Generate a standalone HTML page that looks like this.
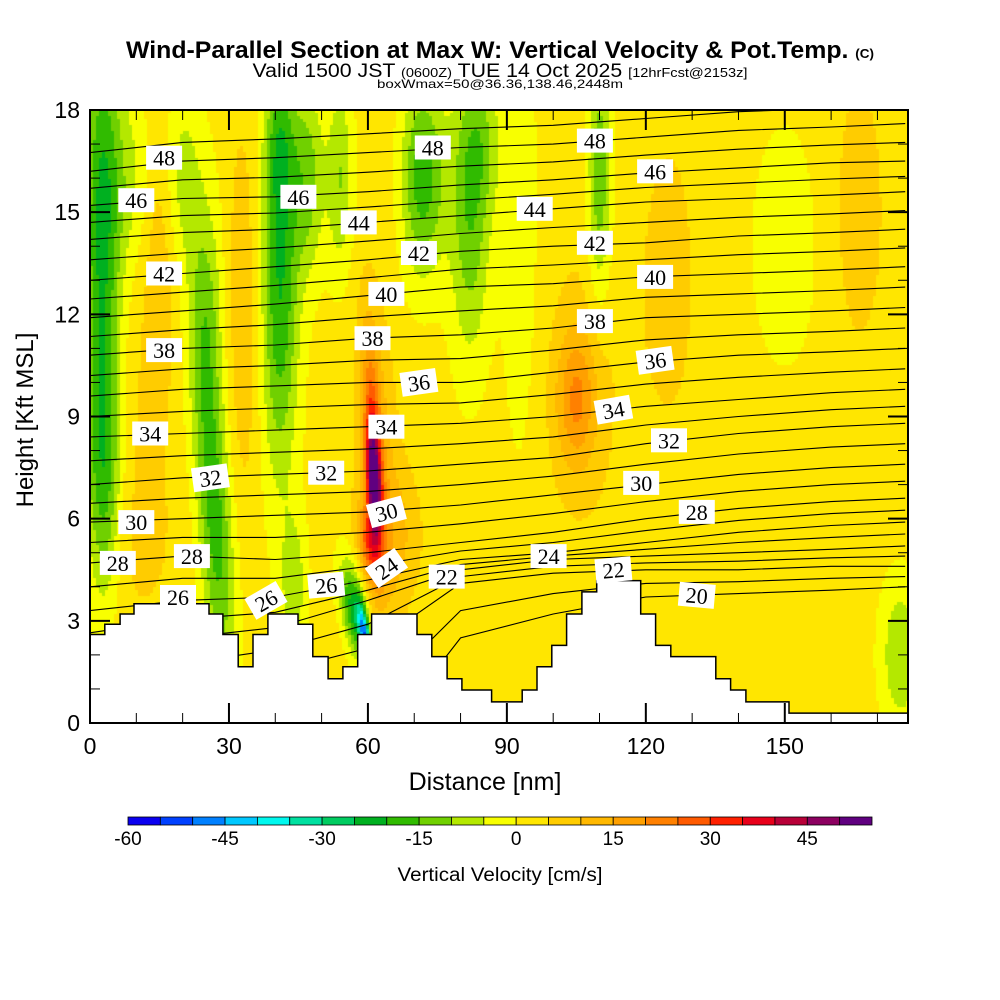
<!DOCTYPE html>
<html><head><meta charset="utf-8"><style>
html,body{margin:0;padding:0;background:#fff;}
#wrap{position:relative;width:1000px;height:1000px;overflow:hidden;}
#field{position:absolute;left:90px;top:110px;}
#svg{position:absolute;left:0;top:0;}
text{font-family:"Liberation Sans",sans-serif;}
</style></head><body>
<div id="wrap">
<canvas id="field" width="818" height="613"></canvas>
<svg id="svg" width="1000" height="1000" xmlns="http://www.w3.org/2000/svg">
<g id="contours"></g>
<polygon id="terrain" fill="#fff" stroke="#000" stroke-width="1.5"/>
<g id="labels"></g>
<g id="axes"></g>
<text x="500" y="58" text-anchor="middle" font-weight="bold" font-size="24" textLength="748" lengthAdjust="spacingAndGlyphs">Wind-Parallel Section at Max W: Vertical Velocity &amp; Pot.Temp. <tspan font-size="13">(C)</tspan></text>
<text x="500" y="77" text-anchor="middle" font-size="19" textLength="495" lengthAdjust="spacingAndGlyphs">Valid 1500 JST <tspan font-size="13">(0600Z)</tspan> TUE 14 Oct 2025 <tspan font-size="13">[12hrFcst@2153z]</tspan></text>
<text x="500" y="88" text-anchor="middle" font-size="12" textLength="246" lengthAdjust="spacingAndGlyphs">boxWmax=50@36.36,138.46,2448m</text>
<text x="485" y="790" text-anchor="middle" font-size="25">Distance [nm]</text>
<text transform="translate(33,420) rotate(-90)" text-anchor="middle" font-size="24">Height [Kft MSL]</text>
<g id="cbar"></g>
<text x="500" y="881" text-anchor="middle" font-size="19" textLength="205" lengthAdjust="spacingAndGlyphs">Vertical Velocity [cm/s]</text>
</svg>
</div>
<script>
// ---- data ----
const colorLevels=[-60,-55,-50,-45,-40,-35,-30,-25,-20,-15,-10,-5,0,5,10,15,20,25,30,35,40,45,50,55];
const colorList=["#0a00f0","#0040ff","#0080ff","#00c8ff","#00f8ee","#00e0a0","#00cc60","#00b020","#30bb00","#70d000","#b4e800","#f8ff00","#ffe600","#ffcc00","#ffb800","#ffa000","#ff8000","#ff5a00","#ff2000","#e8001a","#b80038","#8c0060","#600080"];
const cbarTicks=[-60,-45,-30,-15,0,15,30,45];
const xTicks=[0,30,60,90,120,150];
const yTicks=[0,3,6,9,12,15,18];
const wBase=2;
// features: center x (nm), center y (kft), sigma x, sigma y, amplitude (cm/s), tilt (nm per kft)
const featX  =[2.5,3, 27, 25, 41, 41, 15, 33, 61.3, 61.2, 62, 47, 54, 57, 59.3, 73, 82, 105, 107, 110, 125, 166, 175, 93, 150, 10, 66, 44, 20, 70, 12, 8, 85, 60];
const featY  =[14,7, 6, 12, 13, 17, 14, 12, 7.0, 8.0, 8, 16, 16, 3.3, 2.6, 16, 15, 9.5, 10, 16, 13, 15, 2, 14, 14, 5, 5.5, 4, 16, 16, 9, 16, 17, 5.2];
const featSx =[2.8,2.5,2.6,2.6,2.8,2.2,2.5,2.5,1.0, 1.3, 3.0, 2.5,2, 1.8, 0.8, 3, 3, 3, 7, 1.8,4, 4, 3, 3, 6, 8, 4, 2, 3, 2.5,4, 4, 3, 1.5];
const featSy =[5, 2.5,3.5,2.5,4, 1.5,3, 4, 1.1, 2.2, 3.2, 2, 2, 1, 0.6, 2, 3, 1.4,4, 2.5,3, 3, 1.5,5, 3, 2, 1.5,1.5,2, 2, 3, 2, 1.5, 0.8];
const featAmp=[-22,-14,-20,-12,-22,-10,7, 7, 34, 22, 10, -14,-12,-25,-40,-15,-16,16,4, -17,6, 6, -12,-5,-4, 3, 8, -10,-9, -8, 3, -8, -8, 18];
const featTilt=[0,0,-0.4,0,0,0,0,0,-0.3,-0.3,-0.3,0,0,-1,-1,0,0,0,0,0,0,0,0,0,0,0,0,0,0,0,0,0,0,-1];
// theta contours (K) heights in kft at x nodes (nm)
const thetaX=[0,20,40,60,80,100,120,140,160,176];
const thetaLevels=[20,22,24,26,28,30,32,34,36,38,40,42,44,46,48];
const theta20=[-1,-1,-1,-1,2.5,3.2,3.7,3.8,3.9,4.0];
const theta22=[0.5,1.0,1.5,2.2,4.1,4.4,4.5,4.5,4.6,4.6];
const theta24=[2.0,2.5,2.8,3.6,4.5,4.8,4.9,5.0,5.1,5.2];
const theta26=[3.3,3.6,3.7,4.2,4.8,5.0,5.3,5.6,5.8,5.9];
const theta28=[4.7,4.9,4.8,5.0,5.3,5.6,6.0,6.3,6.5,6.6];
const theta30=[5.9,6.0,6.1,6.2,6.4,6.7,7.0,7.3,7.5,7.6];
const theta32=[7.0,7.2,7.3,7.4,7.6,7.8,8.2,8.5,8.7,8.8];
const theta34=[8.4,8.5,8.6,8.7,8.8,9.0,9.3,9.5,9.7,9.8];
const theta36=[9.6,9.8,9.9,10.0,10.0,10.3,10.6,10.8,10.9,11.0];
const theta38=[10.8,11.0,11.1,11.3,11.4,11.6,11.9,12.0,12.1,12.2];
const theta40=[11.9,12.1,12.3,12.55,12.8,12.9,13.1,13.2,13.3,13.4];
const theta42=[13.0,13.2,13.4,13.6,13.85,14.0,14.1,14.3,14.4,14.5];
const theta44=[14.2,14.4,14.5,14.7,14.9,15.1,15.3,15.4,15.5,15.6];
const theta46=[15.2,15.4,15.45,15.6,15.8,15.95,16.15,16.3,16.45,16.5];
const theta48=[16.2,16.5,16.6,16.75,16.9,17.0,17.2,17.4,17.5,17.6];
// contour labels: value, x nm, y kft, rotation deg
const labelVal=[48,46,42,38,34,32,30,28,28,26,26,26,46,44,42,40,38,36,34,32,30,24,22,24,22,20,28,30,32,34,36,38,40,42,44,46,48,48];
const labelX  =[16,10,16,16,13,26,10,6,22,19,38,51,45,58,71,64,61,71,64,51,64,64,77,99,113,131,131,119,125,113,122,109,122,109,96,122,109,74];
const labelY  =[16.6,15.35,13.2,10.95,8.5,7.2,5.9,4.7,4.9,3.7,3.6,4.05,15.45,14.7,13.8,12.6,11.3,10.0,8.7,7.35,6.2,4.55,4.3,4.9,4.5,3.75,6.2,7.05,8.3,9.2,10.65,11.8,13.1,14.1,15.1,16.2,17.1,16.9];
const labelRot=[0,0,0,0,0,-8,0,0,0,0,-30,-5,0,0,0,0,0,-8,0,0,-15,-35,0,0,-5,5,0,0,0,-10,-8,0,0,0,0,0,0,0];
// terrain outline (nm, kft) step profile
const terrX=[0,3.2,3.2,6.5,6.5,9.5,9.5,25.7,25.7,28.7,28.7,32,32,35.2,35.2,38.4,38.4,44.9,44.9,48.1,48.1,51.4,51.4,54.6,54.6,57.8,57.8,60.8,60.8,70.6,70.6,73.8,73.8,77.1,77.1,80.3,80.3,86.7,86.7,93.3,93.3,96.5,96.5,99.7,99.7,102.9,102.9,106.2,106.2,109.4,109.4,118.9,118.9,122.1,122.1,125.4,125.4,135.1,135.1,138.3,138.3,141.6,141.6,150.9,150.9,176.6];
const terrY=[2.6,2.6,2.9,2.9,3.2,3.2,3.5,3.5,3.2,3.2,2.6,2.6,1.65,1.65,2.6,2.6,3.2,3.2,2.9,2.9,1.95,1.95,1.3,1.3,1.65,1.65,2.6,2.6,3.2,3.2,2.6,2.6,1.95,1.95,1.3,1.3,0.97,0.97,0.62,0.62,0.97,0.97,1.65,1.65,2.28,2.28,3.2,3.2,3.85,3.85,4.18,4.18,3.2,3.2,2.28,2.28,1.95,1.95,1.3,1.3,0.97,0.97,0.62,0.62,0.29,0.29];

// ---- axis functions ----
const X0=90,X1=908,Y0=723,Y1=110,XMAX=176.6,YMAX=18;
const sx=v=>X0+v*(X1-X0)/XMAX;
const sy=v=>Y0-v*(Y0-Y1)/YMAX;
const NS='http://www.w3.org/2000/svg';
function mk(tag,attrs,parent){const e=document.createElementNS(NS,tag);for(const k in attrs)e.setAttribute(k,attrs[k]);parent.appendChild(e);return e;}

// ---- field ----
function wAt(x,y){let v=wBase;for(let i=0;i<featX.length;i++){const dx=x-featX[i]-featTilt[i]*(y-featY[i]);const dy=y-featY[i];v+=featAmp[i]*Math.exp(-(dx*dx/(2*featSx[i]*featSx[i])+dy*dy/(2*featSy[i]*featSy[i])));}return v;}
function colorFor(v){let idx=Math.floor((v-colorLevels[0])/5);idx=Math.max(0,Math.min(colorList.length-1,idx));return colorList[idx];}
const ctx=document.getElementById('field').getContext('2d');
const cs=3;
for(let px=0;px<818;px+=cs){for(let py=0;py<613;py+=cs){const x=(px+cs/2)*XMAX/818;const y=YMAX-(py+cs/2)*YMAX/613;ctx.fillStyle=colorFor(wAt(x,y));ctx.fillRect(px,py,cs,cs);}}

// ---- contours ----
const thetaRows=[theta20,theta22,theta24,theta26,theta28,theta30,theta32,theta34,theta36,theta38,theta40,theta42,theta44,theta46,theta48];
const cg=document.getElementById('contours');
const clip=mk('clipPath',{id:'pc'},mk('defs',{},document.getElementById('svg')));
mk('rect',{x:X0,y:Y1,width:X1-X0,height:Y0-Y1},clip);
cg.setAttribute('clip-path','url(#pc)');
function drawLine(row,name){let d='';for(let i=0;i<thetaX.length;i++){d+=(i?'L':'M')+sx(thetaX[i]).toFixed(1)+','+sy(row[i]).toFixed(1);}
 const p=mk('path',{d:d,fill:'none',stroke:'#000','stroke-width':1.1},cg);
 
 }
for(let k=0;k<thetaRows.length;k++){
 drawLine(thetaRows[k],'theta-'+thetaLevels[k]);
 if(k<thetaRows.length-1){const mid=thetaRows[k].map((v,i)=>(v+thetaRows[k+1][i])/2);drawLine(mid,'theta-'+(thetaLevels[k]+1));}
}
drawLine(theta48.map(v=>v+0.55),'theta-49');

// ---- terrain ----
document.getElementById('terrain').setAttribute('points',terrX.map((x,i)=>sx(x).toFixed(1)+','+sy(terrY[i]).toFixed(1)).join(' ')+' '+X1+','+Y0+' '+X0+','+Y0);

// ---- labels ----
const lg=document.getElementById('labels');
for(let i=0;i<labelVal.length;i++){
 const g=mk('g',{transform:'translate('+sx(labelX[i]).toFixed(1)+','+sy(labelY[i]).toFixed(1)+') rotate('+labelRot[i]+')'},lg);
 
 
 mk('rect',{x:-18,y:-12,width:36,height:24,fill:'#fff'},g);
 const t=mk('text',{x:0,y:8,'text-anchor':'middle','font-size':22,style:'font-family:"Liberation Serif",serif'},g);
 t.textContent=labelVal[i];
}

// ---- axes ----
const ag=document.getElementById('axes');
mk('rect',{x:X0,y:Y1,width:X1-X0,height:Y0-Y1,fill:'none',stroke:'#000','stroke-width':2},ag);
for(let v=0;v<=170;v+=10){const maj=v%30===0;const L=maj?20:10;
 mk('line',{x1:sx(v),y1:Y0,x2:sx(v),y2:Y0-L,stroke:'#000','stroke-width':maj?2:1},ag);
 mk('line',{x1:sx(v),y1:Y1,x2:sx(v),y2:Y1+L,stroke:'#000','stroke-width':maj?2:1},ag);}
for(let v=0;v<=18;v++){const maj=v%3===0;const L=maj?20:10;
 mk('line',{x1:X0,y1:sy(v),x2:X0+L,y2:sy(v),stroke:'#000','stroke-width':maj?2:1},ag);
 mk('line',{x1:X1,y1:sy(v),x2:X1-L,y2:sy(v),stroke:'#000','stroke-width':maj?2:1},ag);}
xTicks.forEach(v=>{const t=mk('text',{x:sx(v),y:Y0+31,'text-anchor':'middle','font-size':23},ag);t.textContent=v;
 
 });
yTicks.forEach(v=>{const t=mk('text',{x:X0-10,y:sy(v)+8,'text-anchor':'end','font-size':23},ag);t.textContent=v;
 
 });

// ---- colorbar ----
const cb=document.getElementById('cbar');
const CB0=128,CB1=872,cw=(CB1-CB0)/colorList.length;
colorList.forEach((c,i)=>{const r=mk('rect',{x:CB0+i*cw,y:817,width:cw,height:8,fill:c,stroke:'#000','stroke-width':0.8},cb);
 
 });
cbarTicks.forEach(v=>{const t=mk('text',{x:CB0+(v-colorLevels[0])/5*cw,y:845,'text-anchor':'middle','font-size':19},cb);t.textContent=v;
 
 });
</script>
</body></html>
